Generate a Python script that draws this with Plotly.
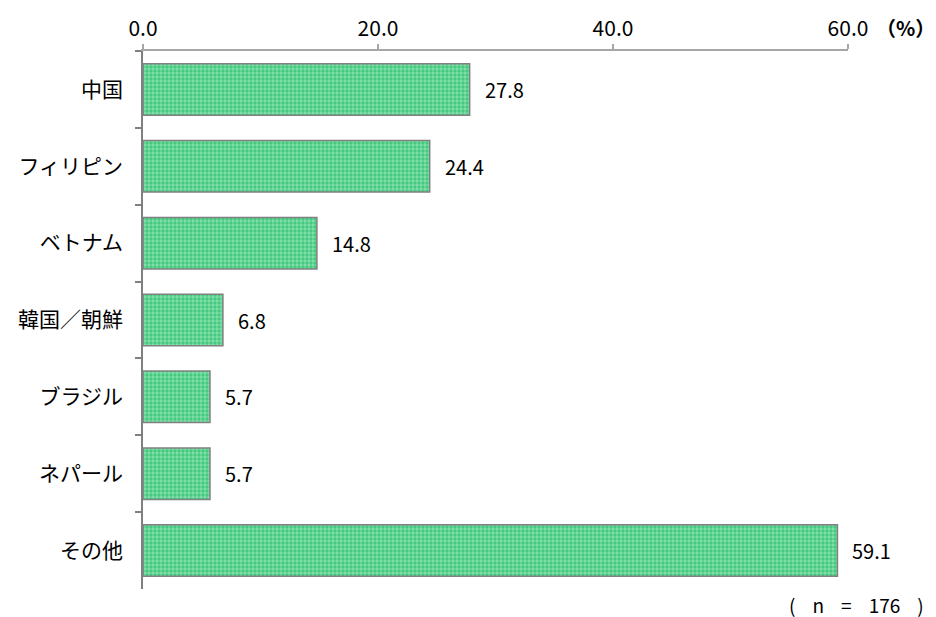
import plotly.graph_objects as go

categories = ["中国", "フィリピン", "ベトナム", "韓国／朝鮮", "ブラジル", "ネパール", "その他"]
shares = [27.8, 24.4, 14.8, 6.8, 5.7, 5.7, 59.1]
x_ticks = [0, 20, 40, 60]
sp = "\u00a0" * 4
sample_note = f"({sp}n{sp}={sp}176{sp})"
unit_note = "（%）"

FONT = "Noto Sans CJK JP"

fig = go.Figure(
    go.Bar(
        y=categories,
        x=shares,
        orientation="h",
        width=0.67,
        marker=dict(
            color="#3dc97b",
            line=dict(color="#808080", width=1.5),
            pattern=dict(shape=".", fgcolor="#c4f0d5", bgcolor="#3dc97b",
                         size=4, solidity=0.55),
        ),
        hoverinfo="skip",
    )
)

# value labels to the right of each bar
for cat, val in zip(categories, shares):
    fig.add_annotation(
        x=val, y=cat, text=f"{val:.1f}", showarrow=False,
        xanchor="left", xshift=13, font=dict(family=FONT, size=20, color="#000"),
    )

fig.add_annotation(
    xref="paper", yref="paper", x=1.0, y=1.0, yshift=24, xshift=26,
    text=f"<b>{unit_note}</b>", showarrow=False, xanchor="left", yanchor="middle",
    font=dict(family=FONT, size=20, color="#000"),
)
fig.add_annotation(
    xref="paper", yref="paper", x=1.0, y=0, yshift=-15, xshift=78,
    text=sample_note, showarrow=False, xanchor="right", yanchor="middle",
    font=dict(family=FONT, size=19, color="#000"),
)

fig.update_layout(
    width=936, height=617,
    margin=dict(l=143, r=88, t=49, b=28),
    paper_bgcolor="white", plot_bgcolor="white",
    showlegend=False,
    font=dict(family=FONT, size=20, color="#000"),
    xaxis=dict(
        side="top", range=[0, 60], tickvals=x_ticks, tickformat=".1f",
        showgrid=False, zeroline=False,
        showline=True, linecolor="#a6a6a6", linewidth=1.5,
        ticks="outside", ticklen=5, tickcolor="#a6a6a6", tickwidth=1.5,
        tickfont=dict(family=FONT, size=21),
        fixedrange=True,
    ),
    yaxis=dict(
        autorange="reversed", showgrid=False, zeroline=False,
        showline=True, linecolor="#808080", linewidth=1.5,
        ticks="outside", tickson="boundaries", ticklen=6,
        tickcolor="#808080", tickwidth=1.5,
        tickfont=dict(family=FONT, size=21), ticklabelstandoff=14,
        fixedrange=True,
    ),
)

fig.write_html("out.html")
